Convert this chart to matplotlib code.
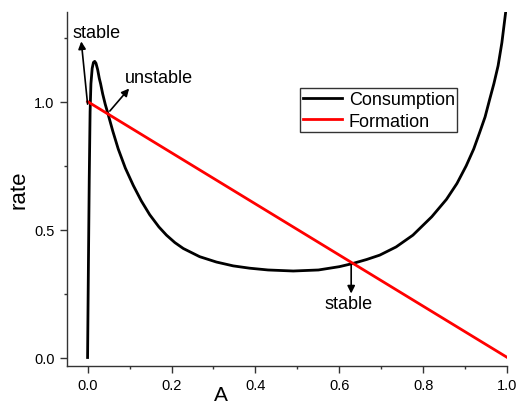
import matplotlib
matplotlib.use("Agg")
import matplotlib.pyplot as plt
from matplotlib.ticker import MultipleLocator, FormatStrFormatter

plt.rcParams["font.family"] = ["Liberation Sans", "DejaVu Sans"]

# Consumption rate vs A
cons_A = [0.000, 0.002, 0.004, 0.006, 0.008, 0.011, 0.014, 0.017, 0.020,
          0.024, 0.028, 0.031, 0.036, 0.042, 0.049, 0.060, 0.073, 0.090,
          0.109, 0.128, 0.148, 0.170, 0.188, 0.208, 0.228, 0.267, 0.307,
          0.347, 0.386, 0.430, 0.490, 0.550, 0.600, 0.631, 0.665, 0.696,
          0.735, 0.775, 0.820, 0.855, 0.880, 0.902, 0.920, 0.934, 0.947,
          0.958, 0.968, 0.978, 0.987, 0.996]
cons_rate = [0.00, 0.36, 0.70, 0.96, 1.07, 1.13, 1.153, 1.157, 1.150,
             1.125, 1.09, 1.07, 1.03, 0.99, 0.95, 0.885, 0.815, 0.74,
             0.672, 0.612, 0.558, 0.51, 0.478, 0.449, 0.426, 0.394, 0.373,
             0.358, 0.349, 0.342, 0.338, 0.342, 0.355, 0.367, 0.383, 0.400,
             0.432, 0.478, 0.55, 0.618, 0.68, 0.749, 0.815, 0.879, 0.94,
             1.009, 1.07, 1.14, 1.23, 1.349]

# Formation rate (straight line)
form_A = [0.0, 1.0]
form_rate = [1.0, 0.0]

# Steady-state labels: (text, text position, arrow tail, arrow head)
notes = [
    ("stable", (0.021, 1.27), (0.000, 0.990), (-0.015, 1.235)),
    ("unstable", (0.169, 1.094), (0.053, 0.963), (0.099, 1.051)),
    ("stable", (0.622, 0.210), (0.628, 0.362), (0.628, 0.250)),
]

fig = plt.figure(figsize=(5.17, 4.06), dpi=100)
ax = fig.add_axes([0.1296, 0.0968, 0.8517, 0.8712])

ax.plot(cons_A, cons_rate, color="black", lw=2.0, label="Consumption",
        solid_joinstyle="round")
ax.plot(form_A, form_rate, color="red", lw=2.0, label="Formation")

for txt, tpos, tail, head in notes:
    ax.annotate("", xy=head, xytext=tail,
                arrowprops=dict(arrowstyle="-|>", color="black", lw=1.2,
                                mutation_scale=11, shrinkA=0, shrinkB=0))
    ax.text(tpos[0], tpos[1], txt, ha="center", va="center", fontsize=13)

ax.set_xlim(-0.049, 1.0)
ax.set_ylim(-0.032, 1.35)

for side in ("top", "right"):
    ax.spines[side].set_visible(False)
for side in ("left", "bottom"):
    ax.spines[side].set_color("#333333")
    ax.spines[side].set_linewidth(1.0)

ax.xaxis.set_major_locator(MultipleLocator(0.2))
ax.xaxis.set_minor_locator(MultipleLocator(0.1))
ax.yaxis.set_major_locator(MultipleLocator(0.5))
ax.yaxis.set_minor_locator(MultipleLocator(0.25))
ax.xaxis.set_major_formatter(FormatStrFormatter("%.1f"))
ax.yaxis.set_major_formatter(FormatStrFormatter("%.1f"))
ax.tick_params(which="major", direction="out", length=5, width=1.0,
               color="#333333", labelsize=10.5, pad=4)
ax.tick_params(which="minor", direction="out", length=2.5, width=1.0,
               color="#333333")

ax.set_xlabel("A", fontsize=15)
ax.set_ylabel("rate", fontsize=16)
ax.xaxis.set_label_coords(0.349, -0.054)
ax.yaxis.set_label_coords(-0.085, 0.5)

leg = ax.legend(loc="upper left", bbox_to_anchor=(0.529, 0.784),
                fontsize=13, fancybox=False, framealpha=1,
                edgecolor="#333333", borderpad=0.15, handlelength=2.2,
                handletextpad=0.35, labelspacing=0.25, borderaxespad=0)
leg.get_frame().set_linewidth(1.0)

fig.savefig("out.png", dpi=100)
